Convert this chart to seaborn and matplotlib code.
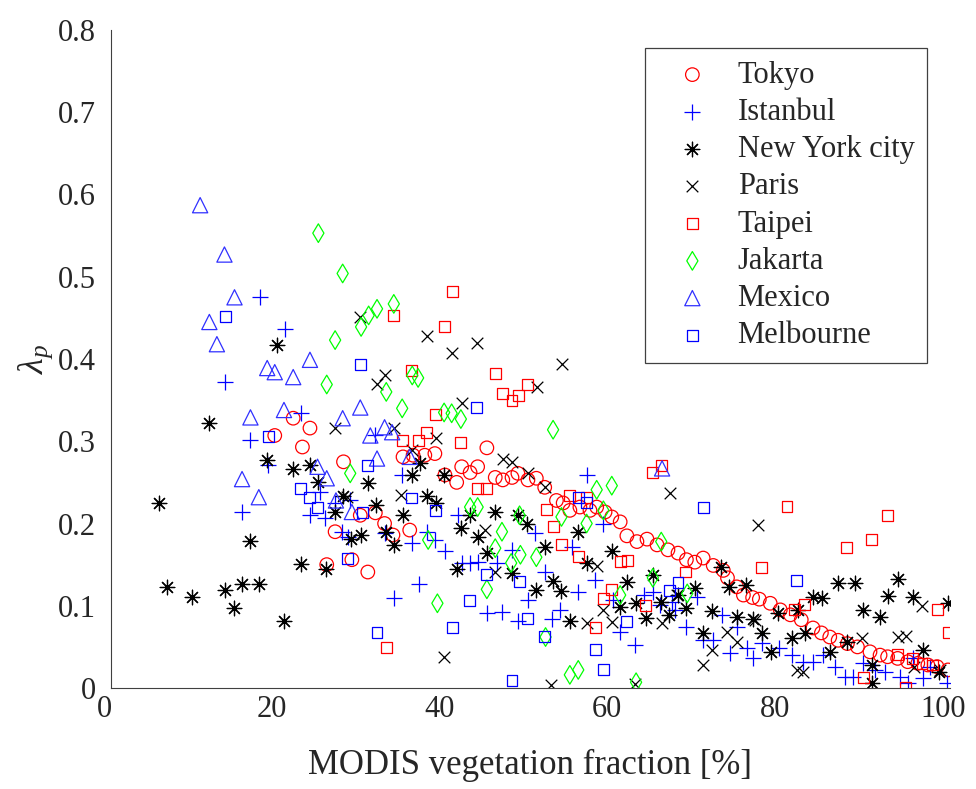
import numpy as np
import pandas as pd
import matplotlib
matplotlib.use('Agg')
import matplotlib.pyplot as plt
import matplotlib.transforms as mtransforms
import seaborn as sns

# (vegetation fraction [%], lambda_p)
tokyo = [(19.5, .307), (21.7, .328), (22.8, .293), (23.7, .316), (25.7, .150), (26.7, .190),
         (27.7, .275), (28.7, .156), (29.7, .210), (30.6, .141), (31.5, .213), (32.6, .200),
         (33.6, .186), (34.8, .281), (35.6, .192), (36.0, .283), (37.4, .283), (38.6, .285),
         (39.8, .259), (41.2, .250), (41.8, .269), (42.8, .262), (43.7, .269), (44.8, .292),
         (45.8, .256), (46.7, .253), (47.8, .256), (48.5, .261), (49.7, .253), (50.7, .255),
         (51.7, .244), (53.1, .228), (53.9, .225), (54.7, .216), (55.9, .220), (57.1, .216),
         (57.9, .220), (58.9, .214), (59.7, .208), (60.7, .202), (61.5, .185), (62.7, .178),
         (63.9, .181), (65.1, .174), (66.4, .168), (67.6, .164), (68.6, .156), (69.6, .153),
         (70.6, .158), (71.8, .149), (73.0, .143), (73.5, .134), (74.6, .123), (75.4, .113),
         (76.5, .110), (77.3, .108), (78.6, .103), (79.8, .095), (81.0, .089), (82.3, .083),
         (83.7, .073), (84.7, .067), (85.7, .062), (86.7, .058), (87.8, .054), (89.0, .050),
         (90.5, .044), (91.7, .040), (92.6, .038), (93.8, .036), (95.0, .032), (96.2, .030),
         (97.4, .028), (98.5, .026), (99.8, .022)]

istanbul = [(17.7, .475), (20.7, .437), (13.6, .372), (22.6, .334), (16.5, .301), (18.7, .271),
            (15.6, .214), (23.7, .210), (24.9, .238), (25.5, .207), (26.7, .225), (27.5, .190),
            (31.5, .307), (34.7, .259), (28.5, .228), (41.4, .210), (37.7, .190), (50.5, .189),
            (28.2, .183), (32.6, .188), (35.9, .176), (38.6, .180), (39.8, .167), (41.8, .152),
            (42.8, .152), (43.7, .153), (46.0, .152), (47.8, .168), (51.7, .141), (49.7, .107),
            (46.6, .092), (44.8, .091), (48.5, .081), (52.6, .084), (36.7, .126), (33.7, .109),
            (56.7, .259), (58.7, .200), (54.9, .171), (55.7, .117), (53.5, .095), (57.7, .131),
            (59.8, .107), (60.7, .068), (62.5, .052), (63.6, .113), (64.6, .117), (65.4, .101),
            (66.9, .105), (67.2, .095), (68.6, .074), (69.9, .111), (70.6, .058), (71.8, .058),
            (72.8, .089), (73.8, .043), (74.6, .074), (75.8, .049), (76.5, .036), (77.6, .055),
            (79.7, .049), (81.2, .040), (82.5, .032), (83.7, .032), (84.9, .040), (86.3, .026),
            (87.5, .013), (88.5, .013), (89.7, .030), (91.1, .022), (92.3, .019), (94.1, .013),
            (95.0, .006), (95.6, .036), (97.6, .026), (96.8, .012), (99.7, .006)]

new_york = [(6.6, .123), (9.6, .111), (13.6, .119), (15.6, .127), (17.6, .127), (14.6, .097),
            (16.6, .179), (20.6, .081), (22.6, .151), (25.6, .145), (11.7, .322), (5.7, .225),
            (18.6, .277), (21.7, .266), (23.7, .271), (24.6, .250), (27.6, .234), (26.7, .214),
            (19.8, .417), (30.6, .249), (35.9, .259), (36.8, .273), (39.7, .259), (31.6, .222),
            (34.8, .210), (37.7, .233), (38.7, .225), (32.8, .190), (42.8, .210), (45.8, .214),
            (41.7, .194), (48.5, .210), (49.6, .200), (28.6, .181), (29.8, .186), (33.7, .174),
            (41.2, .145), (43.7, .183), (44.8, .164), (47.8, .140), (50.7, .119), (51.7, .171),
            (52.7, .130), (55.7, .190), (59.7, .166), (56.7, .152), (53.7, .118), (61.5, .129),
            (64.6, .137), (60.7, .098), (62.6, .103), (63.8, .085), (65.6, .105), (66.5, .089),
            (67.6, .113), (68.5, .097), (69.6, .122), (54.7, .081), (71.6, .094), (70.6, .067),
            (74.6, .086), (76.5, .084), (72.7, .147), (73.7, .123), (75.7, .125), (79.5, .091),
            (81.9, .095), (83.7, .111), (84.8, .109), (77.6, .067), (81.2, .061), (82.7, .067),
            (78.7, .044), (85.7, .044), (87.7, .056), (86.7, .128), (88.7, .128), (89.7, .095),
            (91.7, .086), (92.6, .112), (93.8, .132), (95.6, .111), (99.8, .103), (96.8, .046),
            (90.7, .028), (90.7, .006), (98.7, .019)]

paris = [(29.7, .451), (37.7, .428), (40.7, .407), (43.6, .419), (32.7, .380), (31.7, .370),
         (41.8, .346), (50.8, .366), (33.7, .316), (38.7, .304), (35.9, .289), (46.7, .279),
         (47.8, .275), (49.7, .262), (51.7, .244), (28.1, .232), (34.6, .235), (44.6, .192),
         (53.8, .394), (66.6, .237), (77.2, .198), (39.7, .038), (45.8, .141), (52.4, .004),
         (58.7, .095), (59.7, .080), (56.7, .079), (57.9, .148), (65.7, .079), (67.5, .113),
         (71.6, .046), (70.6, .028), (73.5, .068), (74.6, .056), (62.5, .005), (76.8, .083),
         (81.8, .022), (82.5, .019), (89.5, .061), (93.8, .062), (94.8, .063), (96.7, .100),
         (95.8, .026), (98.9, .022), (26.7, .316)]

taipei = [(40.7, .482), (39.7, .439), (33.7, .453), (35.8, .386), (45.8, .382), (49.7, .369),
          (48.6, .356), (46.7, .358), (47.8, .349), (38.7, .332), (37.6, .311), (36.7, .301),
          (34.7, .301), (41.7, .298), (43.7, .243), (44.8, .242), (51.9, .217), (54.7, .234),
          (56.7, .232), (64.6, .262), (65.6, .270), (52.7, .196), (80.6, .221), (92.6, .210),
          (90.7, .181), (87.7, .171), (77.6, .146), (82.7, .102), (81.5, .096), (98.6, .095),
          (99.8, .068), (93.8, .041), (95.6, .036), (96.7, .030), (89.7, .013), (94.7, .001),
          (97.9, .028), (53.7, .175), (55.7, .160), (60.7, .154), (61.6, .155), (68.5, .141),
          (59.7, .120), (58.7, .109), (63.7, .100), (57.8, .074), (32.8, .049)]

jakarta = [(24.7, .553), (27.6, .504), (26.7, .423), (33.7, .467), (31.7, .461), (30.7, .453),
           (29.8, .439), (25.7, .369), (28.5, .261), (35.9, .380), (36.6, .377), (32.8, .360),
           (34.7, .340), (39.7, .335), (40.6, .334), (41.7, .327), (52.7, .314), (42.8, .220),
           (43.7, .220), (48.7, .210), (59.7, .246), (57.9, .241), (58.7, .216), (53.7, .208),
           (56.7, .200), (37.8, .180), (38.9, .103), (44.8, .120), (45.8, .170), (47.7, .152),
           (48.8, .162), (50.7, .159), (51.8, .062), (46.6, .190), (65.6, .178), (64.6, .134),
           (60.7, .113), (68.7, .115), (54.7, .016), (55.7, .022), (62.6, .007)]

mexico = [(10.6, .587), (13.5, .527), (14.7, .475), (11.7, .445), (12.6, .418), (23.7, .399),
          (18.6, .389), (19.5, .384), (21.7, .378), (16.6, .329), (20.6, .338), (27.6, .328),
          (15.6, .254), (17.6, .232), (24.6, .269), (25.7, .255), (26.8, .228), (29.7, .341),
          (30.9, .307), (32.6, .317), (33.5, .311), (31.7, .279), (35.6, .281), (28.7, .214),
          (65.7, .267)]

melbourne = [(13.6, .452), (18.7, .306), (22.6, .242), (23.7, .232), (24.6, .219), (29.7, .393),
             (43.6, .341), (30.6, .270), (35.8, .231), (38.7, .216), (30.0, .213), (55.7, .232),
             (56.7, .225), (70.6, .220), (44.8, .138), (48.7, .129), (42.7, .106), (49.7, .084),
             (40.7, .073), (31.7, .068), (51.7, .063), (47.8, .009), (28.2, .158), (67.6, .128),
             (66.6, .119), (61.5, .081), (57.8, .047), (58.7, .022), (81.7, .131)]

cities = ['Tokyo', 'Istanbul', 'New York city', 'Paris', 'Taipei', 'Jakarta', 'Mexico', 'Melbourne']
series = [tokyo, istanbul, new_york, paris, taipei, jakarta, mexico, melbourne]

# marker, colour, size, open (fillable) marker?
styles = {
    'Tokyo':         ('o', '#ff0000', 95, True),
    'Istanbul':      ('+', '#0000ff', 120, False),
    'New York city': ((8, 2, 0), '#000000', 110, False),
    'Paris':         ('x', '#000000', 70, False),
    'Taipei':        ('s', '#ff0000', 62, True),
    'Jakarta':       ('d', '#00ff00', 90, True),
    'Mexico':        ('^', '#3030ff', 120, True),
    'Melbourne':     ('s', '#0000ff', 62, True),
}

sns.set_style('white')
plt.rcParams['font.family'] = ['Liberation Serif', 'DejaVu Serif']
plt.rcParams['mathtext.fontset'] = 'custom'
plt.rcParams['mathtext.rm'] = 'Liberation Serif'
plt.rcParams['mathtext.it'] = 'Liberation Serif:italic'

fig = plt.figure(figsize=(9.76, 7.89), dpi=100)
ax = fig.add_axes([0.114, 0.128, 0.859, 0.834])

for city, pts in zip(cities, series):
    df = pd.DataFrame(pts, columns=['veg', 'lam'])
    m, c, s, filled = styles[city]
    if filled:
        sns.scatterplot(data=df, x='veg', y='lam', ax=ax, marker=m, s=s, color=c,
                        facecolor='none', edgecolor=c, linewidth=0.9, label=city)
    else:
        sns.scatterplot(data=df, x='veg', y='lam', ax=ax, marker=m, s=s, color=c,
                        linewidth=0.9, label=city)

ax.set_xlim(0, 100)
ax.set_ylim(0, 0.8)
ax.set_xticks(np.arange(0, 101, 20))
ax.set_yticks(np.arange(0, 0.81, 0.1))
ax.set_yticklabels(['0', '0.1', '0.2', '0.3', '0.4', '0.5', '0.6', '0.7', '0.8'])
ax.tick_params(direction='in', length=6, width=0.8, labelsize=22, colors='#262626')
ax.tick_params(axis='y', pad=11)
ax.tick_params(axis='x', pad=5)
# x tick labels sit a little left of their ticks in the original
shift = mtransforms.ScaledTranslation(-7 / 100, 0, fig.dpi_scale_trans)
for lab in ax.get_xticklabels():
    lab.set_transform(lab.get_transform() + shift)
for side in ['top', 'right']:
    ax.spines[side].set_visible(False)
for side in ['left', 'bottom']:
    ax.spines[side].set_color('#404040')
    ax.spines[side].set_linewidth(0.8)

ax.set_xlabel('MODIS vegetation fraction [%]', fontsize=25, labelpad=18)
ax.set_ylabel(r'$\lambda_p$', fontsize=26, labelpad=2)

leg = ax.legend(loc='upper right', bbox_to_anchor=(0.9726, 0.972), fontsize=22,
                frameon=True, fancybox=False, framealpha=1, edgecolor='#404040',
                labelspacing=0.27, handlelength=2.3, handletextpad=0.33,
                borderpad=0.4, borderaxespad=0)
leg.get_frame().set_linewidth(0.9)

fig.savefig('out.png', dpi=100)
